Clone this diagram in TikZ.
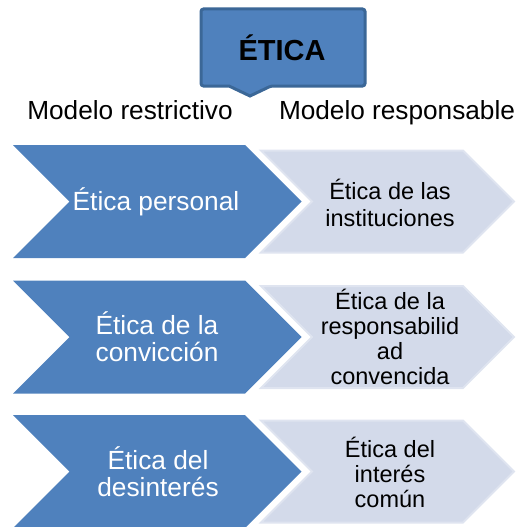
\documentclass[tikz,border=0pt]{standalone}
\usepackage{fontspec}
\setmainfont{Liberation Sans}
\definecolor{darkblue}{HTML}{4F81BD}
\definecolor{boxborder}{HTML}{3B6797}
\definecolor{lightfill}{HTML}{D3DAEA}
\definecolor{lightborder}{HTML}{DFE4F0}
\begin{document}
\begin{tikzpicture}[x=1pt,y=-1pt,
  darkchev/.style={fill=darkblue},
  lightchev/.style={fill=lightfill,draw=lightborder,line width=2pt,line join=miter},
  darktext/.style={text=white,align=center,font=\fontsize{26.3}{27}\selectfont,inner sep=0pt},
  lighttext/.style={text=black,align=center,font=\fontsize{23.5}{25}\selectfont,inner sep=0pt},
  headtext/.style={text=black,font=\fontsize{26.2}{28}\selectfont,inner sep=0pt,anchor=base}]
\useasboundingbox (0,0) rectangle (521,527);
% title callout
\draw[fill=darkblue,draw=boxborder,line width=3pt,rounded corners=2.5pt]
  (201,9) -- (365,9) -- (365,86) -- (271,86) [sharp corners] -- (250,96) -- (229,86) [rounded corners=2.5pt] -- (201,86) -- cycle;
\node[font=\bfseries\fontsize{29}{30}\selectfont,anchor=base,inner sep=0pt] (etica) at (282,60) {ÉTICA};
% headers
\node[headtext] (restr) at (130,119) {Modelo restrictivo};
\node[headtext] (resp) at (397,119) {Modelo responsable};
% rows
\foreach \mid/\name in {201.5/a,337/b,471.5/c}{
  \fill[darkchev] (13,\mid-56.5) -- (245,\mid-56.5) -- (301.5,\mid) -- (245,\mid+56.5) -- (13,\mid+56.5) -- (69.5,\mid) -- cycle;
  \draw[lightchev] (261,\mid-51) -- (463,\mid-51) -- (514,\mid) -- (463,\mid+51) -- (261,\mid+51) -- (312,\mid) -- cycle;
}
\node[darktext] (d1) at (156,201.5) {Ética personal};
\node[darktext] (d2) at (157,337) {Ética de la\\convicción};
\node[darktext] (d3) at (158,471.5) {Ética del\\desinterés};
\node[lighttext,font=\fontsize{23.5}{27}\selectfont] (l1) at (390,203) {Ética de las\\instituciones};
\node[lighttext] (l2) at (390,337) {Ética de la\\responsabilid\\ad\\convencida};
\node[lighttext] (l3) at (390,472) {Ética del\\interés\\común};
\end{tikzpicture}
\end{document}
